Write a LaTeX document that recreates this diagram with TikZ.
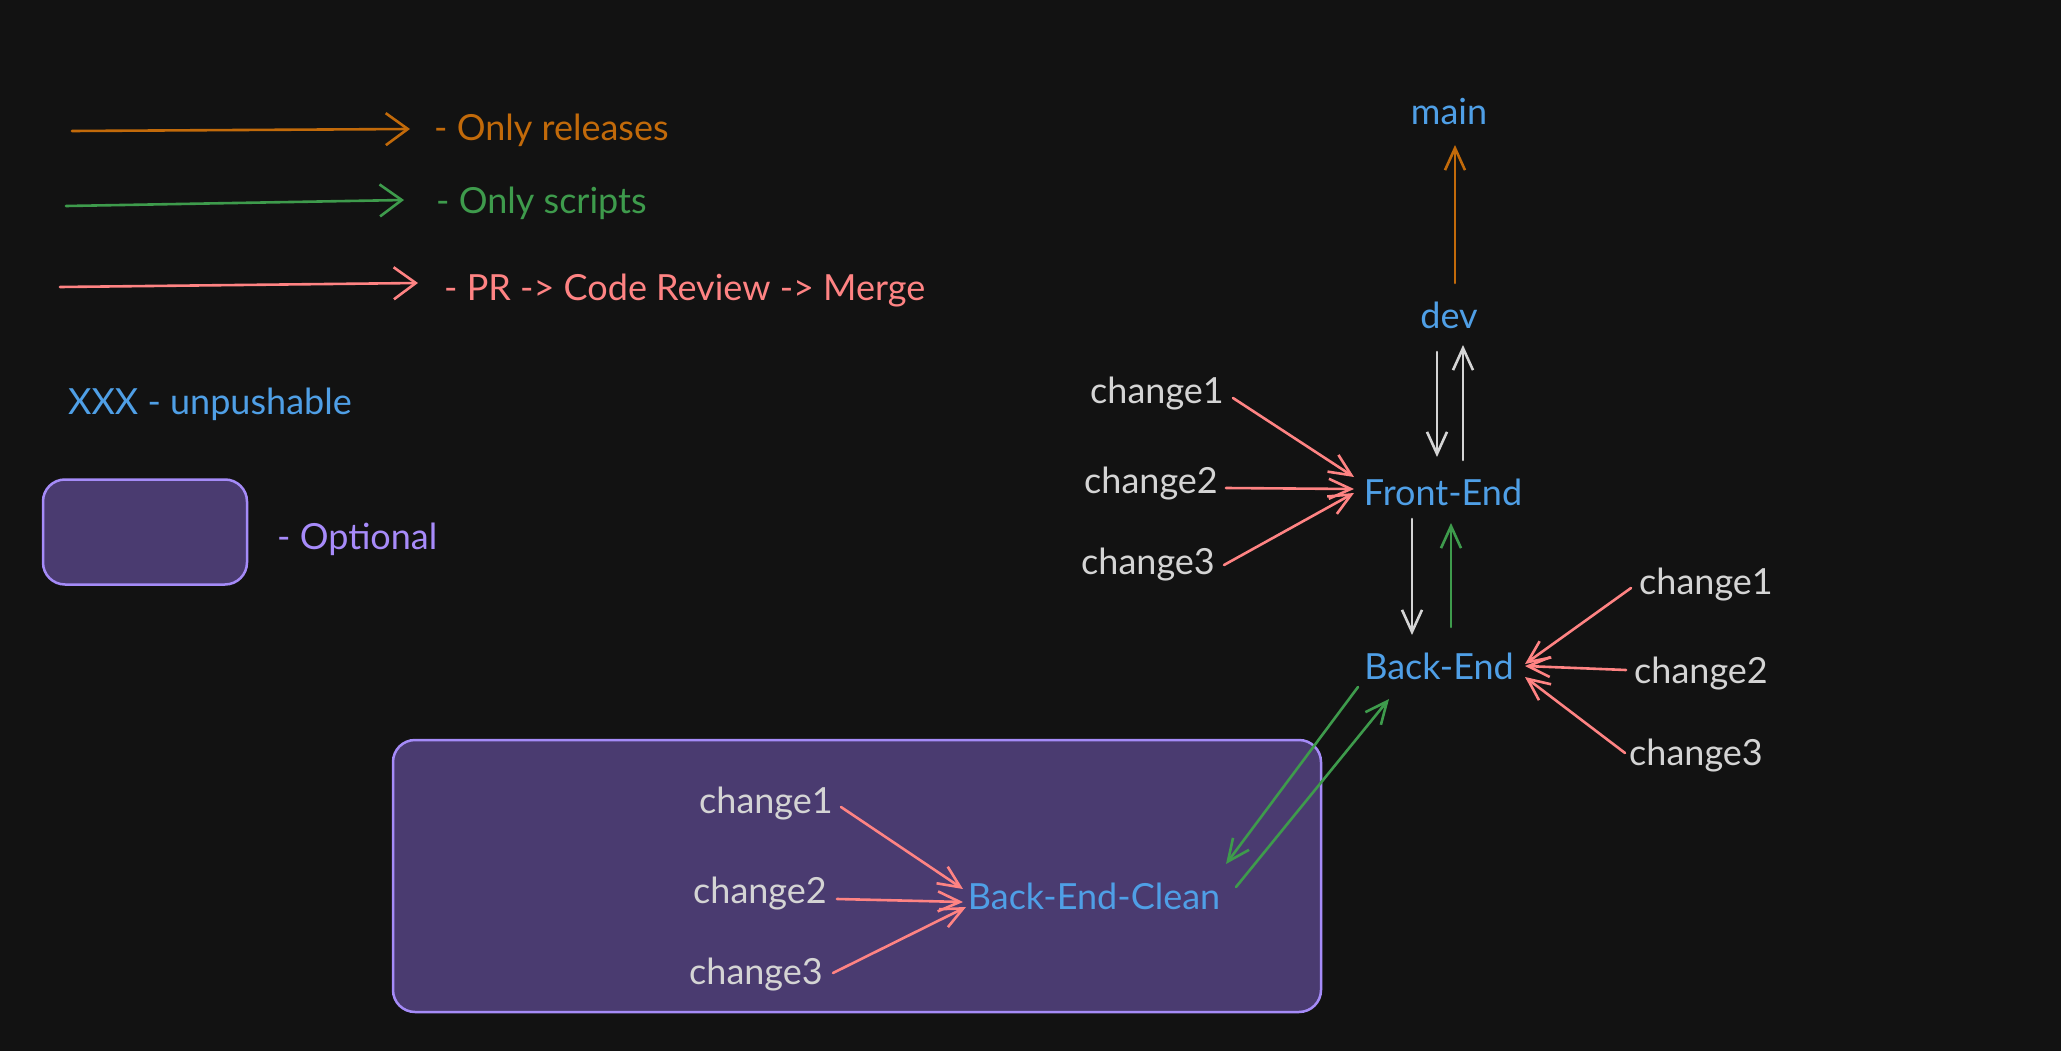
\documentclass[tikz,border=0pt]{standalone}
\usepackage{fontspec}
\setmainfont{Lato}
\usetikzlibrary{arrows.meta,calc}
\definecolor{bg}{HTML}{121212}
\definecolor{cblue}{HTML}{4F9FE6}
\definecolor{corange}{HTML}{C26A0A}
\definecolor{cgreen}{HTML}{3E9B4C}
\definecolor{cred}{HTML}{FF8383}
\definecolor{cgray}{HTML}{D4D4D4}
\definecolor{cpfill}{HTML}{4A3B70}
\definecolor{cpline}{HTML}{A58BF8}
\definecolor{cptext}{HTML}{A78BFA}
\begin{document}
\begin{tikzpicture}[x=1pt,y=-1pt,
  txt/.style={inner sep=0pt, anchor=base, font=\fontsize{36}{42}\selectfont},
  ltxt/.style={inner sep=0pt, anchor=base west, font=\fontsize{36}{42}\selectfont},
  br/.style={txt, text=cblue},
  ch/.style={txt, text=cgray},
  arr/.style={line width=2.6pt, line cap=round, -{Straight Barb[length=22pt,width=20pt,line width=2.6pt]}},
  larr/.style={line width=2.6pt, line cap=round, -{Straight Barb[length=22pt,width=32pt,line width=2.6pt]}},
  optbox/.style={draw=cpline, fill=cpfill, line width=2.5pt, rounded corners=22pt, inner sep=0pt}
]
\fill[bg] (0,0) rectangle (2061,1051);
\useasboundingbox (0,0) rectangle (2061,1051);

% ---------- legend ----------
\node[ltxt, text=corange] (rel) at (434,141) {- Only releases};
\node[ltxt, text=cgreen] (scr) at (436,214) {- Only scripts};
\node[ltxt, text=cred] (pr) at (444,300) {- PR -> Code Review -> Merge};
\node[ltxt, text=cblue] (xxx) at (68,414) {XXX - unpushable};
\node[optbox, minimum width=204pt, minimum height=105pt] (obox) at (145,532) {};
\node[ltxt, text=cptext] (opt) at (277,549) {- Optional};

\coordinate (la1) at (72,131);
\coordinate (la2) at (66,206);
\coordinate (la3) at (60,287);
\draw[larr, corange] (la1) -- ($(rel.base west)+(-24,-12)$);
\draw[larr, cgreen] (la2) -- ($(scr.base west)+(-32,-14)$);
\draw[larr, cred] (la3) -- ($(pr.base west)+(-26,-17)$);

% ---------- optional area ----------
\node[optbox, minimum width=928pt, minimum height=272pt] (area) at (857,876) {};

% ---------- branches ----------
\node[br] (main) at (1449,125) {main};
\node[br] (dev) at (1449,328) {dev};
\node[br] (fe) at (1443,505) {Front-End};
\node[br] (be) at (1439,679) {Back-End};
\node[br] (bec) at (1094,909) {Back-End-Clean};

\node[ch] (lc1) at (1157,403) {change1};
\node[ch] (lc2) at (1151,493) {change2};
\node[ch] (lc3) at (1148,574) {change3};
\node[ch] (rc1) at (1706,594) {change1};
\node[ch] (rc2) at (1701,683) {change2};
\node[ch] (rc3) at (1696,765) {change3};
\node[ch] (bc1) at (766,813) {change1};
\node[ch] (bc2) at (760,903) {change2};
\node[ch] (bc3) at (756,984) {change3};

% ---------- connectors ----------
\draw[arr, corange] ($(dev.base)+(6,-45)$) -- ($(main.base)+(6,20)$);
\draw[arr, cgray] ($(dev.base)+(-12,24)$) -- ($(fe.base)+(-6,-48)$);
\draw[arr, cgray] ($(fe.base)+(20,-45)$) -- ($(dev.base)+(14,17)$);

\draw[arr, cred] ($(lc1.base)+(76,-5)$) -- ($(fe.base)+(-89,-28)$);
\draw[arr, cred] ($(lc2.base)+(75,-5)$) -- ($(fe.base)+(-89,-16)$);
\draw[arr, cred] ($(lc3.base)+(76,-9)$) -- ($(fe.base)+(-89,-12)$);

\draw[arr, cgray] ($(fe.base)+(-31,14)$) -- ($(be.base)+(-27,-44)$);
\draw[arr, cgreen] ($(be.base)+(12,-52)$) -- ($(fe.base)+(8,18)$);

\draw[arr, cred] ($(rc1.base)+(-75,-6)$) -- ($(be.base)+(86,-15)$);
\draw[arr, cred] ($(rc2.base)+(-75,-13)$) -- ($(be.base)+(86,-13)$);
\draw[arr, cred] ($(rc3.base)+(-71,-12)$) -- ($(be.base)+(86,-2)$);

\draw[arr, cgreen] ($(be.base)+(-81,8)$) -- ($(bec.base)+(132,-45)$);
\draw[arr, cgreen] ($(bec.base)+(142,-22)$) -- ($(be.base)+(-50,20)$);

\draw[arr, cred] ($(bc1.base)+(75,-6)$) -- ($(bec.base)+(-131,-20)$);
\draw[arr, cred] ($(bc2.base)+(77,-4)$) -- ($(bec.base)+(-131,-7)$);
\draw[arr, cred] ($(bc3.base)+(77,-11)$) -- ($(bec.base)+(-128,-2)$);
\end{tikzpicture}
\end{document}
